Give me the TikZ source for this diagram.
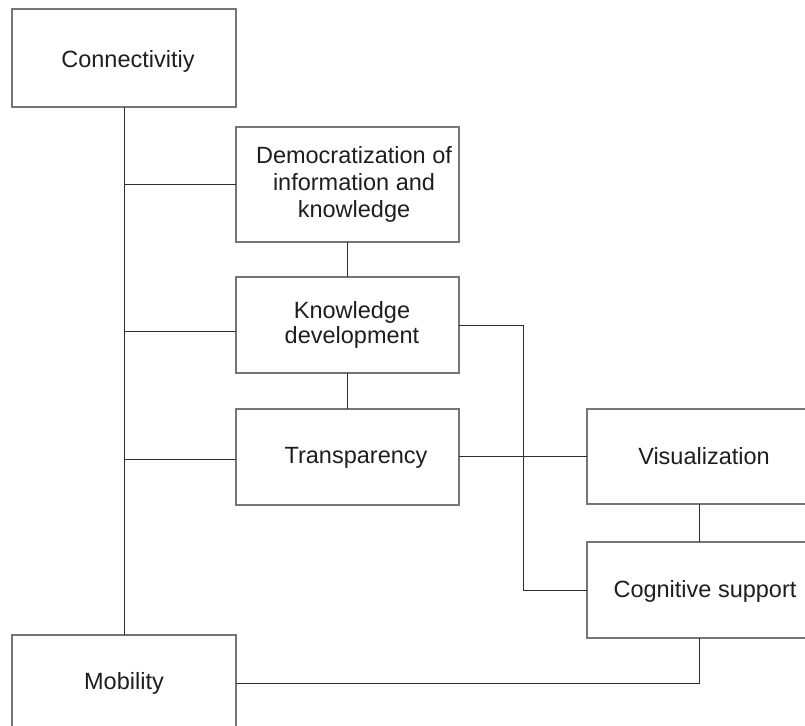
\documentclass[tikz,border=0pt]{standalone}
\usepackage{fontspec}
\setmainfont{Liberation Sans}
\usetikzlibrary{calc}
\definecolor{boxgray}{RGB}{118,118,118}
\definecolor{linecol}{RGB}{45,45,45}
\definecolor{txtcol}{RGB}{30,30,30}
\begin{document}
\begin{tikzpicture}[x=1pt,y=-1pt,
  box/.style={draw=boxgray, line width=1.3pt, fill=white, inner sep=0pt, outer sep=0pt, anchor=north west, minimum width=224pt, minimum height=96pt},
  txt/.style={text=txtcol, font=\fontsize{23.5}{26}\selectfont, inner sep=0pt, align=center},
  wire/.style={draw=linecol, line width=1pt}]
\useasboundingbox (0,0) rectangle (805,725);
\clip (0,0) rectangle (805,725);
% boxes
\node[box, minimum height=98pt] (connb) at (12,9) {};
\node[box, minimum width=223pt, minimum height=115pt] (demb) at (236,127) {};
\node[box, minimum width=223pt] (knowb) at (236,277) {};
\node[box, minimum width=223pt] (transb) at (236,409) {};
\node[box, minimum height=95pt] (visb) at (587,409) {};
\node[box] (cogb) at (587,542) {};
\node[box] (mobb) at (12,635) {};
% texts
\node[txt, anchor=base] (connt) at (128,67) {Connectivitiy};
\node[txt, font=\fontsize{23.5}{27}\selectfont] (demt) at (354,184) {Democratization of\\information and\\knowledge};
\node[txt, font=\fontsize{23.5}{24.5}\selectfont] (knowt) at (352,325) {Knowledge\\development};
\node[txt, anchor=base] (transt) at (356,463) {Transparency};
\node[txt, anchor=base] (vist) at (704,464) {Visualization};
\node[txt, anchor=base] (cogt) at (705,597) {Cognitive support};
\node[txt, anchor=base] (mobt) at (124,689) {Mobility};
% junction coordinates
\coordinate (djoin) at (124,184.5);
\coordinate (kjoin) at (124,331);
\coordinate (tjoin) at (124,459);
\coordinate (bendA) at (523,325);
\coordinate (bendB) at (523,590);
% connectors
\draw[wire] (connb.south) -- (mobb.north);
\draw[wire] (djoin) -- (djoin -| demb.west);
\draw[wire] (kjoin) -- (kjoin -| knowb.west);
\draw[wire] (tjoin) -- (tjoin -| transb.west);
\draw[wire] (demb.south) -- (knowb.north);
\draw[wire] (knowb.south) -- (transb.north);
\draw[wire] (knowb.east) -- (bendA) -- (bendB) -- (bendB -| cogb.west);
\draw[wire] (transb.east |- visb.west) -- (visb.west);
\draw[wire] (visb.south) -- (cogb.north);
\draw[wire] (cogb.south) -- (cogb.south |- mobb.east) -- (mobb.east);
\end{tikzpicture}
\end{document}
